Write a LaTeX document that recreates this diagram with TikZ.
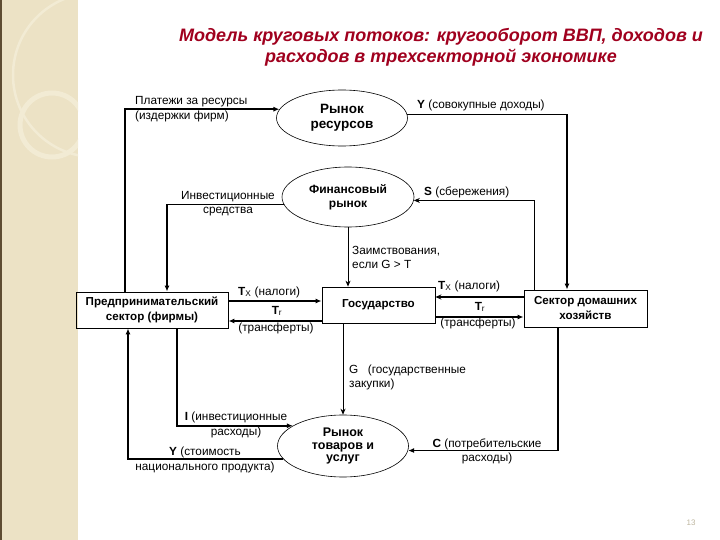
\documentclass[tikz,border=0pt]{standalone}
\usepackage{fontspec}
\setmainfont{Liberation Sans}
\usetikzlibrary{arrows.meta,shapes.geometric}

\definecolor{titlered}{HTML}{A0001E}
\definecolor{stripbeige}{HTML}{ECE2C5}
\definecolor{stripring}{HTML}{F2EBD4}
\definecolor{stripedge}{HTML}{5E4C32}

\begin{document}
\begin{tikzpicture}[x=1pt, y=-1pt,
    lbl/.style={inner sep=0pt, font=\fontsize{11.8}{14.5}\selectfont},
    box/.style={draw, line width=0.8pt, align=center, inner sep=2pt, font=\fontsize{11.6}{15}\selectfont\bfseries},
    market/.style={ellipse, draw, line width=0.6pt, align=center, inner sep=0pt, font=\fontsize{13.5}{15}\selectfont\bfseries},
    flow/.style={-{Latex[length=6pt, width=5pt]}, line width=1.6pt},
    thinflow/.style={-{Stealth[length=6pt, width=5pt]}, line width=0.8pt}
  ]
    \useasboundingbox (0,0) rectangle (720,540);
    % slide strip
    \fill[stripbeige] (0,0) rectangle (78,540);
    \begin{scope}
      \clip (0,0) rectangle (78,540);
      \draw[stripring, line width=2.5pt] (95,75) circle (82);
      \draw[stripring, line width=5pt] (52,125) circle (32);
    \end{scope}
    \fill[stripedge] (0,0) rectangle (1.5,540);
    % title
    \node[font=\fontsize{18}{21}\selectfont\bfseries\itshape, text=titlered, align=center] (title) at (441,47)
      {Модель круговых потоков: кругооборот ВВП, доходов и\\расходов в трехсекторной экономике};
    % sectors and markets
    \node[box, minimum width=152pt, minimum height=36pt] (firms) at (152,310) {Предпринимательский\\сектор (фирмы)};
    \node[box, minimum width=113pt, minimum height=36pt] (gov) at (378.5,305) {Государство};
    \node[box, minimum width=123pt, minimum height=37pt] (hh) at (585.5,308.5) {Сектор домашних\\хозяйств};
    \node[market, minimum width=131pt, minimum height=56pt] (rr) at (342,118) {Рынок\\ресурсов};
    \node[market, minimum width=132pt, minimum height=60pt, font=\fontsize{12}{14}\selectfont\bfseries] (fm) at (348,197) {Финансовый\\рынок};
    \node[market, minimum width=131pt, minimum height=62pt, font=\fontsize{12.5}{12.5}\selectfont\bfseries] (gm) at (343,446) {Рынок\\товаров и\\услуг};
    % flows
    \draw[flow] ([xshift=-27pt]firms.north) |- (rr.172);
    \draw[flow] (rr.3) -| ([xshift=-18.5pt]hh.north);
    \draw[thinflow] ([xshift=-51.5pt]hh.north) |- (fm.-3);
    \draw[flow, line width=1.2pt] (fm.187) -| ([xshift=15pt]firms.north);
    \draw[thinflow] (fm.south) -- (fm.south |- gov.north);
    \draw[flow, line width=1.3pt] ([yshift=9pt]firms.east) -- ([yshift=9pt]firms.east -| gov.west);
    \draw[flow, line width=1.3pt] ([yshift=-11pt]firms.east -| gov.west) -- ([yshift=-11pt]firms.east);
    \draw[thinflow, line width=1.1pt] ([yshift=11.5pt]hh.west) -- ([yshift=11.5pt]hh.west -| gov.east);
    \draw[flow, line width=1.3pt] ([yshift=-8.5pt]hh.west -| gov.east) -- ([yshift=-8.5pt]hh.west);
    \draw[thinflow] (gov.south -| gm.north) -- (gm.north);
    \draw[flow] ([xshift=25pt]firms.south) |- (gm.158);
    \draw[flow] (gm.192) -| ([xshift=-24pt]firms.south);
    \draw[flow, line width=1.3pt] ([xshift=-27.5pt]hh.south) |- (gm.-4);
    % labels
    \node[lbl, anchor=west, align=left] (lpay) at (135,109) {Платежи за ресурсы\\(издержки фирм)};
    \node[lbl, anchor=west] (lincome) at (417,105) {\textbf{Y} (совокупные доходы)};
    \node[lbl, anchor=west] (lsave) at (424,192) {\textbf{S} (сбережения)};
    \node[lbl, align=center] (linvf) at (228,203.5) {Инвестиционные\\средства};
    \node[lbl, anchor=west, align=left] (lborrow) at (352,257.5) {Заимствования,\\если G > T};
    \node[lbl, anchor=west] (ltax1) at (238,292) {\textbf{T}\textsubscript{X} (налоги)};
    \node[lbl] (ltr1) at (277,311) {\textbf{T}\textsubscript{r}};
    \node[lbl] (ltrf1) at (276,328) {(трансферты)};
    \node[lbl, anchor=west] (ltax2) at (438,286) {\textbf{T}\textsubscript{X} (налоги)};
    \node[lbl] (ltr2) at (480,307) {\textbf{T}\textsubscript{r}};
    \node[lbl] (ltrf2) at (478,323) {(трансферты)};
    \node[lbl, anchor=west, align=left] (lgov) at (349,377.5) {G\hspace{0.8em}(государственные\\закупки)};
    \node[lbl, align=center] (linv) at (236,425) {\textbf{I} (инвестиционные\\расходы)};
    \node[lbl, align=center] (lprod) at (205,460) {\textbf{Y} (стоимость\\национального продукта)};
    \node[lbl, align=center] (lcons) at (487,451.5) {\textbf{C} (потребительские\\расходы)};
    \node[font=\fontsize{8}{10}\selectfont, text=stripbeige!80!black] (page) at (691,523) {13};
  \end{tikzpicture}
\end{document}
